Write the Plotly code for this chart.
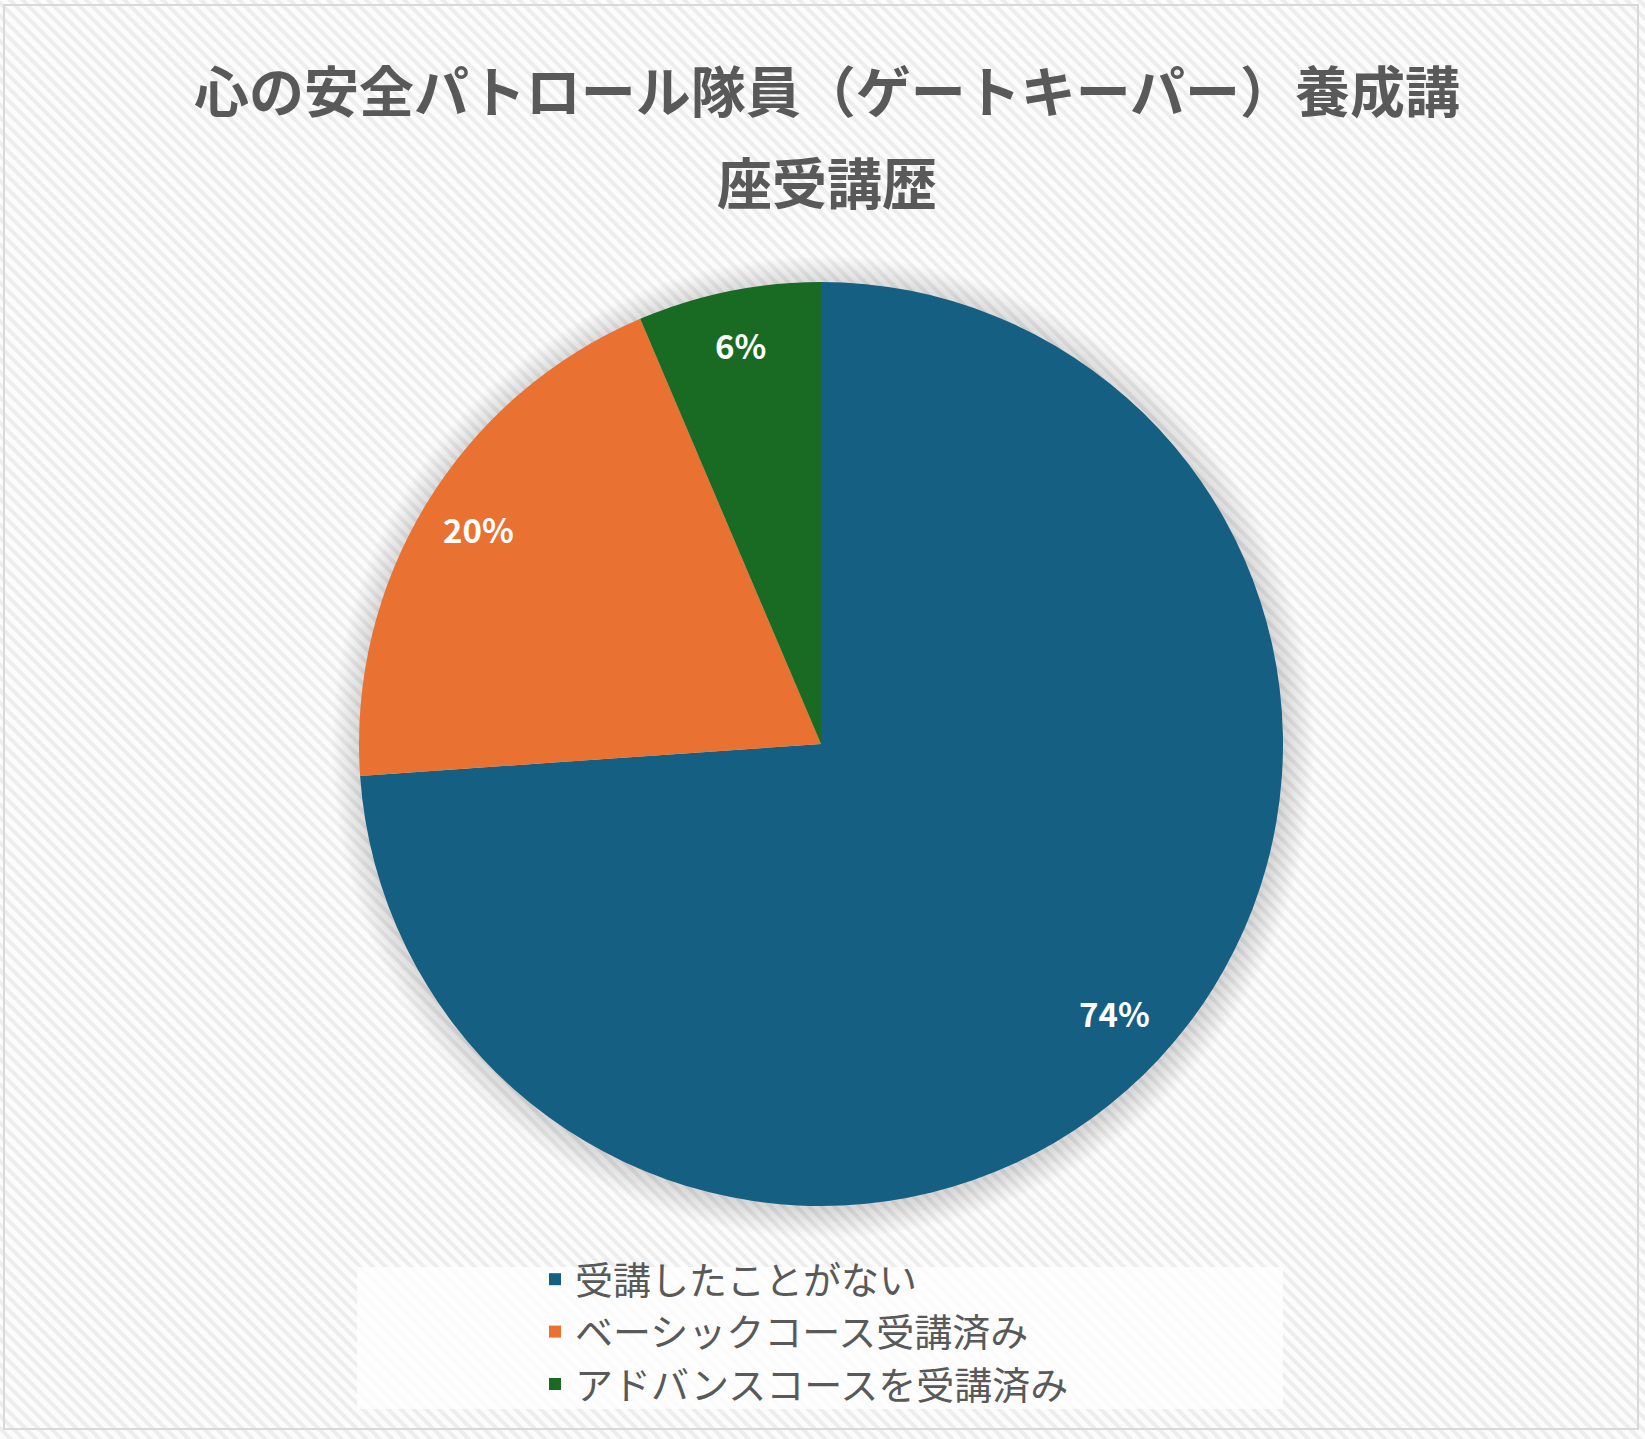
import base64
import math
import plotly.graph_objects as go

# data
labels = ["受講したことがない", "ベーシックコース受講済み", "アドバンスコースを受講済み"]
values = [73.9, 19.7, 6.4]
colors = ["#156082", "#E97132", "#196B24"]
title_lines = ["心の安全パトロール隊員（ゲートキーパー）養成講", "座受講歴"]

W, H = 1645, 1439
cx, cy, R = 821, 744, 462          # pie centre / radius in pixels (from top-left)
font = "Noto Sans CJK JP"
grey = "#595959"

# striped background texture
svg = (
    f'<svg xmlns="http://www.w3.org/2000/svg" width="{W}" height="{H}">'
    '<defs><pattern id="p" width="9" height="9" patternUnits="userSpaceOnUse" '
    'patternTransform="rotate(45)">'
    '<rect width="9" height="9" fill="#FCFCFC"/>'
    '<rect width="9" height="4" fill="#EDEDED"/></pattern></defs>'
    f'<rect width="{W}" height="{H}" fill="url(#p)"/></svg>'
)
bg = "data:image/svg+xml;base64," + base64.b64encode(svg.encode()).decode()

fig = go.Figure(go.Pie(
    labels=labels, values=values, sort=False, direction="clockwise", rotation=0,
    marker=dict(colors=colors), textinfo="none", hoverinfo="label+percent",
    domain=dict(x=[(cx - R) / W, (cx + R) / W],
                y=[(H - cy - R) / H, (H - cy + R) / H]),
))

def px_x(x):
    return x / W

def px_y(y):
    return 1 - y / H

shapes = []
# soft shadow rings behind the pie
for i in range(12):
    r = R + 1 + i * 2.5
    shapes.append(dict(type="circle", xref="paper", yref="paper", layer="below",
                       x0=px_x(cx + 2 - r), x1=px_x(cx + 2 + r),
                       y0=px_y(cy + 3 + r), y1=px_y(cy + 3 - r),
                       fillcolor="rgba(0,0,0,0.011)", line_width=0))
# legend backdrop
shapes.append(dict(type="rect", xref="paper", yref="paper", layer="below",
                   x0=px_x(357), x1=px_x(1283), y0=px_y(1409), y1=px_y(1267),
                   fillcolor="rgba(255,255,255,0.75)", line_width=0))
# outer border
shapes.append(dict(type="rect", xref="paper", yref="paper",
                   x0=px_x(4), x1=px_x(1638), y0=px_y(1429), y1=px_y(5),
                   line=dict(color="#D9D9D9", width=2)))

annotations = []
for i, t in enumerate(title_lines):
    annotations.append(dict(text=f"<b>{t}</b>", x=0.503, y=px_y(88 + i * 92),
                            xref="paper", yref="paper", showarrow=False,
                            xanchor="center", yanchor="middle",
                            font=dict(family=font, size=55, color=grey)))

# percentage labels placed near the outer part of each slice
total = sum(values)
cum = 0
for v in values:
    mid = (cum + v / 2) / total * 2 * math.pi
    cum += v
    r = 0.87 * R
    annotations.append(dict(text=f"<b>{round(v / total * 100)}%</b>",
                            x=px_x(cx + r * math.sin(mid)),
                            y=px_y(cy - r * math.cos(mid) - 5),
                            xref="paper", yref="paper", showarrow=False,
                            xanchor="center", yanchor="middle",
                            font=dict(family=font, size=33, color="white")))

fig.update_layout(
    width=W, height=H, margin=dict(l=0, r=0, t=0, b=0),
    paper_bgcolor="#FAFAFA",
    images=[dict(source=bg, xref="paper", yref="paper", x=0, y=1, sizex=1, sizey=1,
                 sizing="stretch", layer="below")],
    shapes=shapes, annotations=annotations,
    showlegend=True,
    legend=dict(x=px_x(535), y=px_y(1248), xanchor="left", yanchor="top",
                font=dict(family=font, size=38, color=grey),
                bgcolor="rgba(0,0,0,0)", itemclick=False),
)

fig.write_html("out.html", config={"displayModeBar": False},
               post_script="document.body.style.margin='0';")
